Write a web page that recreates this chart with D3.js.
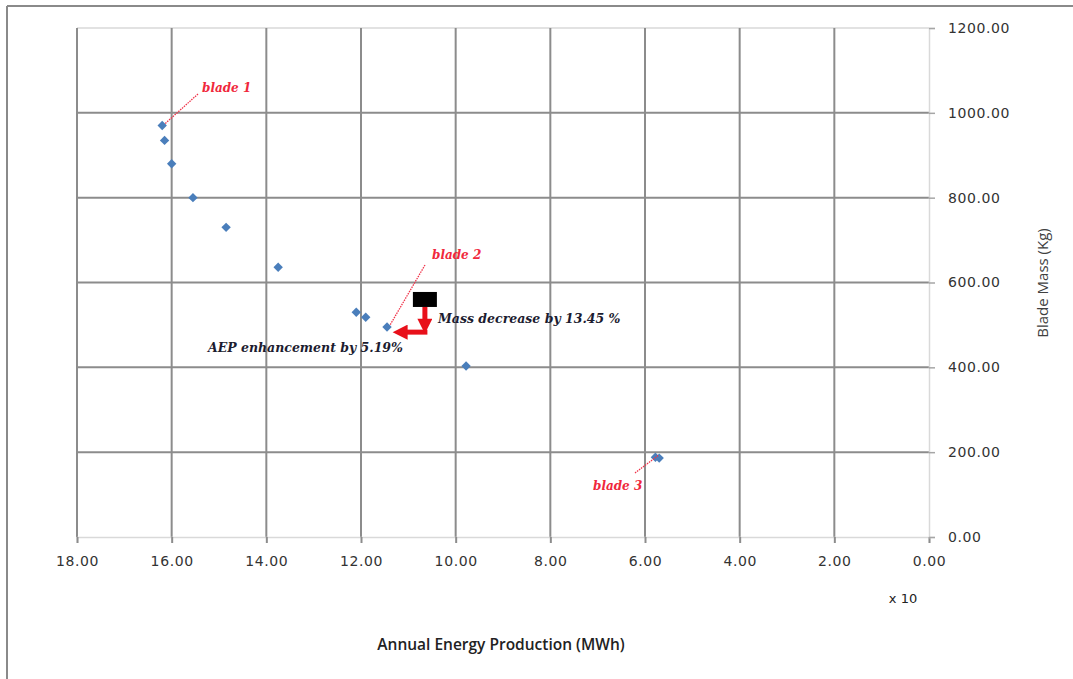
<!DOCTYPE html>
<html>
<head>
<meta charset="utf-8">
<script src="https://cdn.jsdelivr.net/npm/d3@7"></script>
<style>
  body { margin: 0; background: #fff; }
  svg { display: block; }
  .tick text { font-family: "DejaVu Sans", sans-serif; font-size: 14px; fill: #333; letter-spacing: 0.6px; }
</style>
</head>
<body>
<svg id="chart" width="1073" height="679"></svg>
<script>
// blade designs: annual energy production (x 10 MWh) vs blade mass (kg)
const aep  = [16.2, 16.15, 16.0, 15.55, 14.85, 13.75, 12.1, 11.9, 11.45, 9.78, 5.78, 5.70];
const mass = [970, 935, 880, 800, 730, 636, 530, 518, 495, 403, 188, 186];

// optimised blade (black box)
const optAep = [10.65];
const optMass = [560];

const xTicks = [18, 16, 14, 12, 10, 8, 6, 4, 2, 0];
const yTicks = [0, 200, 400, 600, 800, 1000, 1200];

// labelled designs
const bladeNames = ["blade 1", "blade 2", "blade 3"];
const bladeIdx = [0, 8, 10];

const svg = d3.select("#chart");

const x = d3.scaleLinear().domain([18, 0]).range([77, 929]);
const y = d3.scaleLinear().domain([0, 1200]).range([537, 28]);

// outer frame (only top + left show)
svg.append("line").attr("x1", 7).attr("x2", 1073).attr("y1", 6).attr("y2", 6)
    .attr("stroke", "#8a8a8a").attr("stroke-width", 2);
svg.append("line").attr("x1", 7).attr("x2", 7).attr("y1", 6).attr("y2", 679)
    .attr("stroke", "#8a8a8a").attr("stroke-width", 2);

// light border line on top of the plot
svg.append("line").attr("x1", x(18)).attr("x2", x(0)).attr("y1", y(1200)).attr("y2", y(1200))
    .attr("stroke", "#d9d9d9").attr("stroke-width", 1.5);

// vertical grid
svg.append("g").selectAll("line")
    .data(xTicks.filter(d => d != 0))
    .enter().append("line")
    .attr("x1", d => x(d)).attr("x2", d => x(d))
    .attr("y1", y(1200)).attr("y2", y(0))
    .attr("stroke", "#8c8c8c").attr("stroke-width", 2);

// horizontal grid
svg.append("g").selectAll("line")
    .data(yTicks.filter(d => d != 0 && d != 1200))
    .enter().append("line")
    .attr("x1", x(18)).attr("x2", x(0))
    .attr("y1", d => y(d)).attr("y2", d => y(d))
    .attr("stroke", "#8c8c8c").attr("stroke-width", 2);

// x axis
let xAxis = svg.append("g")
    .attr("transform", `translate(0,${y(0)})`)
    .call(d3.axisBottom(x).tickValues(xTicks).tickFormat(d3.format(".2f")).tickSize(6).tickPadding(13));
xAxis.select(".domain").attr("stroke", "#d9d9d9").attr("stroke-width", 1.5);
xAxis.selectAll(".tick line").attr("stroke", "#8c8c8c").attr("stroke-width", 2);

// y axis on the right
let yAxis = svg.append("g")
    .attr("transform", `translate(${x(0)},0)`)
    .call(d3.axisRight(y).tickValues(yTicks).tickFormat(d3.format(".2f")).tickSize(6).tickPadding(13));
yAxis.select(".domain").attr("stroke", "#d9d9d9").attr("stroke-width", 1.5);
yAxis.selectAll(".tick line").attr("stroke", "#a6a6a6").attr("stroke-width", 1.5);

// axis titles
svg.append("text")
    .attr("x", 903).attr("y", 603)
    .attr("text-anchor", "middle")
    .style("font-family", "DejaVu Sans").style("font-size", "13px").style("fill", "#222")
    .text("x 10");

svg.append("text")
    .attr("x", 501).attr("y", 650)
    .attr("text-anchor", "middle")
    .style("font-family", "Open Sans").style("font-size", "15.5px").style("font-weight", 600).style("fill", "#222")
    .text("Annual Energy Production (MWh)");

svg.append("text")
    .attr("transform", "translate(1048,283) rotate(-90)")
    .attr("text-anchor", "middle")
    .style("font-family", "Open Sans").style("font-size", "15px").style("fill", "#404040")
    .text("Blade Mass (Kg)");

// data points
let diamond = d3.symbol().type(d3.symbolSquare).size(44);
svg.append("g").selectAll("path")
    .data(aep.map((d, i) => [d, mass[i]]))
    .enter().append("path")
    .attr("d", diamond)
    .attr("transform", d => `translate(${x(d[0])},${y(d[1])}) rotate(45)`)
    .attr("fill", "#4a7ebb");

// optimised blade box
svg.append("g").selectAll("rect")
    .data(optAep.map((d, i) => [d, optMass[i]]))
    .enter().append("rect")
    .attr("x", d => x(d[0]) - 12).attr("y", d => y(d[1]) - 7.5)
    .attr("width", 24).attr("height", 15)
    .attr("fill", "#000");

// red arrows: mass decrease (down) and AEP enhancement (left)
let defs = svg.append("defs");
defs.append("marker")
    .attr("id", "head")
    .attr("viewBox", "0 0 10 10")
    .attr("refX", 5).attr("refY", 5)
    .attr("markerWidth", 3.2).attr("markerHeight", 3)
    .attr("orient", "auto")
    .append("path").attr("d", "M0,0 L10,5 L0,10 z").attr("fill", "#e8101a");

let cornerMass = 483;
let arrowEndAep = 11.3;
svg.append("line")
    .attr("x1", x(optAep[0])).attr("x2", x(optAep[0]))
    .attr("y1", y(optMass[0]) + 7.5).attr("y2", y(cornerMass) - 6)
    .attr("stroke", "#e8101a").attr("stroke-width", 5)
    .attr("marker-end", "url(#head)");
svg.append("line")
    .attr("x1", x(optAep[0]) + 2.5).attr("x2", x(arrowEndAep) + 6)
    .attr("y1", y(cornerMass)).attr("y2", y(cornerMass))
    .attr("stroke", "#e8101a").attr("stroke-width", 5)
    .attr("marker-end", "url(#head)");

// annotation texts
svg.append("text")
    .attr("x", 438).attr("y", 323)
    .style("font-family", "DejaVu Serif").style("font-style", "italic").style("font-weight", "bold")
    .style("font-size", "12.5px").style("fill", "#1c1c30")
    .text("Mass decrease by 13.45 %");

svg.append("text")
    .attr("x", 208).attr("y", 352)
    .style("font-family", "DejaVu Serif").style("font-style", "italic").style("font-weight", "bold")
    .style("font-size", "12.5px").style("fill", "#1c1c30")
    .text("AEP enhancement by 5.19%");

// blade labels with dashed leader lines
let labelPos = [[202, 92], [432, 259], [593, 490]];
let leaderFrom = [[198, 94], [425, 265], [635, 473]];

svg.append("g").selectAll("line")
    .data(bladeIdx)
    .enter().append("line")
    .attr("x1", (d, i) => leaderFrom[i][0]).attr("y1", (d, i) => leaderFrom[i][1])
    .attr("x2", d => x(aep[d]) + 3).attr("y2", d => y(mass[d]) - 2)
    .attr("stroke", "#f0344a").attr("stroke-width", 1.3)
    .attr("stroke-dasharray", "1.5,1");

svg.append("g").selectAll("text")
    .data(bladeNames)
    .enter().append("text")
    .attr("x", (d, i) => labelPos[i][0]).attr("y", (d, i) => labelPos[i][1])
    .style("font-family", "DejaVu Serif").style("font-style", "italic").style("font-weight", "bold")
    .style("font-size", "12px").style("fill", "#f0283c")
    .text(d => d);
</script>
</body>
</html>
